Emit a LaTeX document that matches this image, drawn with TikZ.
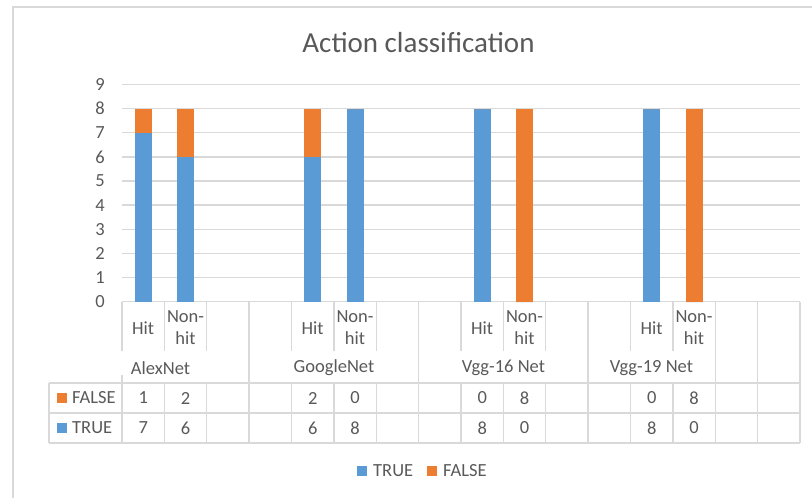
\documentclass[tikz,border=0pt]{standalone}
\usepackage{fontspec}
\setmainfont{Carlito}
\definecolor{tblue}{HTML}{5B9BD5}
\definecolor{torange}{HTML}{ED7D31}
\definecolor{gridc}{HTML}{D9D9D9}
\definecolor{txtc}{HTML}{595959}
\begin{document}
\begin{tikzpicture}[x=1pt,y=-1pt,
  lbl/.style={text=txtc, font=\fontsize{18.5}{22}\selectfont, inner sep=0pt, align=center},
  titlestyle/.style={text=txtc, font=\fontsize{29}{32}\selectfont, inner sep=0pt},
  gridline/.style={draw=gridc, line width=1.3pt},
  frameline/.style={draw=gridc, line width=1.5pt},
  truebar/.style={fill=tblue, draw=none},
  falsebar/.style={fill=torange, draw=none},
  keybox/.style={minimum size=10pt, inner sep=0pt, draw=none}]
\useasboundingbox (0,0) rectangle (812,498);
% outer frame
\draw[frameline] (13,498) -- (13,7) -- (812,7);
% title
\node[titlestyle] (title) at (418.5,43) {Action classification};
% gridlines and tick labels
\foreach \k in {0,...,9}{
  \pgfmathsetmacro{\yy}{301.5-24.1*\k}
  \draw[gridline] (122,\yy) -- (800,\yy);
  \node[lbl, anchor=east] (tick\k) at (105,\yy) {\k};
}
% bars: column / true / false
\foreach \i/\t/\f in {0/7/1, 1/6/2, 4/6/2, 5/8/0, 8/8/0, 9/0/8, 12/8/0, 13/0/8}{
  \pgfmathsetmacro{\xc}{122+42.375*(\i+0.5)}
  \pgfmathsetmacro{\yt}{301.5-24.1*\t}
  \pgfmathsetmacro{\yf}{301.5-24.1*(\t+\f)}
  \fill[truebar] (\xc-8.5,301.5) rectangle (\xc+8.5,\yt);
  \fill[falsebar] (\xc-8.5,\yt) rectangle (\xc+8.5,\yf);
}
% short separators (subcategories)
\foreach \i in {0,1,2,4,5,6,8,9,10,12,13}{
  \pgfmathsetmacro{\xx}{122+42.375*\i}
  \draw[gridline] (\xx,301.5) -- (\xx,351);
}
% long separators (groups)
\foreach \i in {3,7,11,14,15,16}{
  \pgfmathsetmacro{\xx}{122+42.375*\i}
  \draw[gridline] (\xx,301.5) -- (\xx,443);
}
% data table lines
\draw[gridline] (122,375) -- (122,443);
\draw[gridline] (49,383) -- (800,383);
\draw[gridline] (49,413) -- (800,413);
\draw[gridline] (49,443) -- (800,443);
\draw[gridline] (49,383) -- (49,443);
\foreach \i in {1,2,4,5,6,8,9,10,12,13}{
  \pgfmathsetmacro{\xx}{122+42.375*\i}
  \draw[gridline] (\xx,383) -- (\xx,443);
}
% category labels
\foreach \i/\n in {0/a,4/b,8/c,12/d}{
  \pgfmathsetmacro{\xc}{122+42.375*(\i+0.5)}
  \pgfmathsetmacro{\xd}{122+42.375*(\i+1.5)}
  \node[lbl] (hit\n) at (\xc,328) {Hit};
  \node[lbl] (non\n) at (\xd,328) {Non-\\hit};
}
\node[lbl] (alex) at (160.5,368) {AlexNet};
\node[lbl] (goog) at (334,368) {GoogleNet};
\node[lbl] (vgg16) at (503.5,368) {Vgg-16 Net};
\node[lbl] (vgg19) at (651.5,368) {Vgg-19 Net};
% table values
\foreach \i/\t/\f in {0/7/1, 1/6/2, 4/6/2, 5/8/0, 8/8/0, 9/0/8, 12/8/0, 13/0/8}{
  \pgfmathsetmacro{\xc}{122+42.375*(\i+0.5)}
  \node[lbl] (f\i) at (\xc,398) {\f};
  \node[lbl] (t\i) at (\xc,428) {\t};
}
% table legend keys
\node[keybox, fill=torange] (kf) at (61.5,398) {};
\node[lbl, anchor=west] (kft) at (72,398) {FALSE};
\node[keybox, fill=tblue] (kt) at (61.5,428) {};
\node[lbl, anchor=west] (ktt) at (72,428) {TRUE};
% bottom legend
\node[keybox, fill=tblue] (lt) at (362,471) {};
\node[lbl, anchor=west] (ltt) at (373,471) {TRUE};
\node[keybox, fill=torange] (lf) at (432,471) {};
\node[lbl, anchor=west] (lft) at (443,471) {FALSE};
\end{tikzpicture}
\end{document}
